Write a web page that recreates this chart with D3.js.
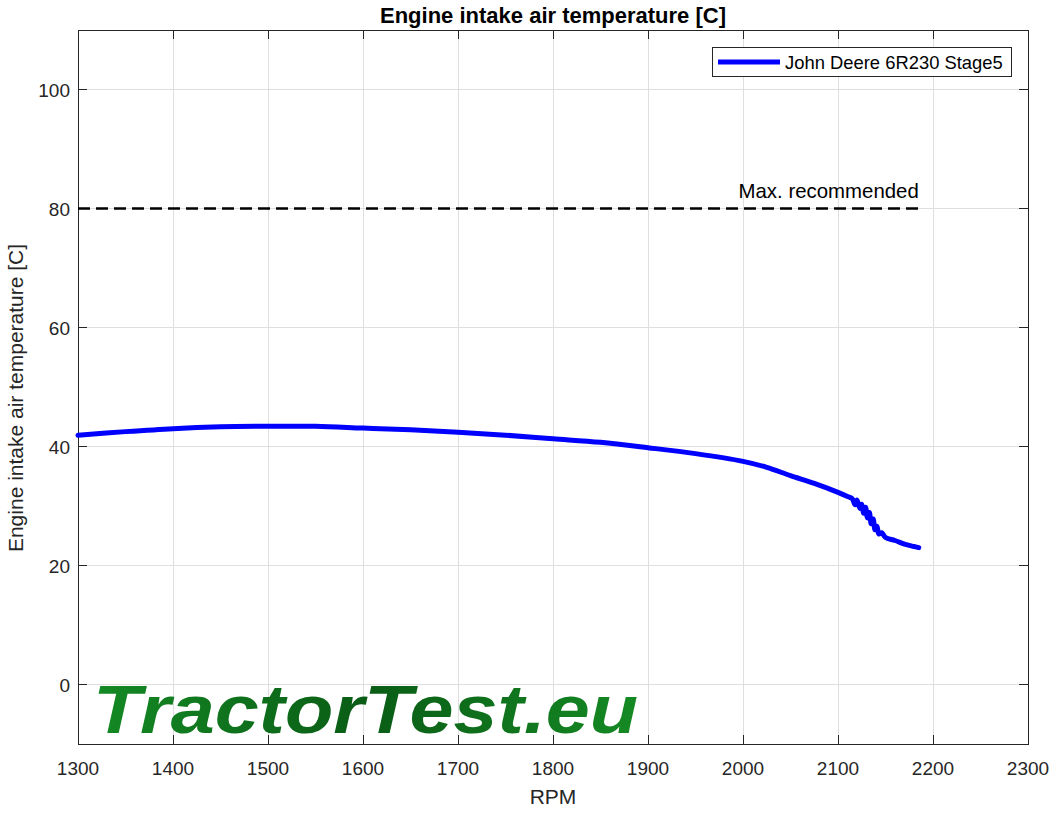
<!DOCTYPE html>
<html><head><meta charset="utf-8">
<script src="https://cdn.jsdelivr.net/npm/d3@7"></script>
<style>body{margin:0;background:#fff}svg{display:block}</style>
</head><body>
<script>
const rpm = [1300,1350,1400,1450,1500,1550,1600,1650,1700,1750,1800,1850,1900,1950,2000,2025,2050,2075,2100,2110,2115,2118,2120,2123,2125,2127,2129,2131,2133,2135,2137,2139,2141,2143,2146,2150,2160,2170,2180,2185];
const temp = [41.9,42.5,43.0,43.3,43.4,43.4,43.1,42.8,42.4,41.9,41.3,40.7,39.8,38.8,37.5,36.5,35.1,33.8,32.3,31.6,31.2,30.2,31.0,29.6,30.3,28.8,29.8,28.0,28.9,27.0,27.8,26.0,26.6,25.3,25.5,24.7,24.2,23.6,23.2,23.0];
const xTicks = [1300,1400,1500,1600,1700,1800,1900,2000,2100,2200,2300];
const yTicks = [0,20,40,60,80,100];
const maxRecommended = 80;
const maxRange = [1300,2185];
const seriesName = "John Deere 6R230 Stage5";
const title = "Engine intake air temperature [C]";
const yLabel = "Engine intake air temperature [C]";
const xLabel = "RPM";

const W=1057,H=814, L=78,R=1028,T=30,B=744;
const svg=d3.select("body").append("svg").attr("width",W).attr("height",H)
  .style("font-family","'Liberation Sans',Arial,sans-serif");
const x=d3.scaleLinear().domain([1300,2300]).range([L,R]);
const y=d3.scaleLinear().domain([-10,110]).range([B,T]);

// grid
svg.append("g").selectAll("line").data(xTicks).join("line")
 .attr("x1",d=>x(d)).attr("x2",d=>x(d)).attr("y1",T).attr("y2",B)
 .attr("stroke","#dfdfdf").attr("stroke-width",1).attr("shape-rendering","crispEdges");
svg.append("g").selectAll("line").data(yTicks).join("line")
 .attr("y1",d=>y(d)).attr("y2",d=>y(d)).attr("x1",L).attr("x2",R)
 .attr("stroke","#dfdfdf").attr("stroke-width",1).attr("shape-rendering","crispEdges");

// watermark
const defs=svg.append("defs");
const g=defs.append("linearGradient").attr("id","wm").attr("x1","0").attr("x2","1").attr("y1","0").attr("y2","0");
g.append("stop").attr("offset","0%").attr("stop-color","#148a24");
g.append("stop").attr("offset","50%").attr("stop-color","#0a5c16");
g.append("stop").attr("offset","100%").attr("stop-color","#158a24");
svg.append("text").attr("x",93).attr("y",733).text("TractorTest.eu")
 .attr("font-size",68).attr("font-weight","bold").attr("font-style","italic")
 .attr("textLength",545).attr("lengthAdjust","spacingAndGlyphs")
 .attr("fill","url(#wm)");

// axes with inward ticks
const tl=9;
const ax=svg.append("g").attr("fill","none").attr("stroke","#262626").attr("stroke-width",1).attr("shape-rendering","crispEdges");
ax.append("rect").attr("x",L).attr("y",T).attr("width",R-L).attr("height",B-T);
xTicks.forEach(d=>{
  ax.append("line").attr("x1",x(d)).attr("x2",x(d)).attr("y1",B).attr("y2",B-tl);
  ax.append("line").attr("x1",x(d)).attr("x2",x(d)).attr("y1",T).attr("y2",T+tl);
});
yTicks.forEach(d=>{
  ax.append("line").attr("y1",y(d)).attr("y2",y(d)).attr("x1",L).attr("x2",L+tl);
  ax.append("line").attr("y1",y(d)).attr("y2",y(d)).attr("x1",R).attr("x2",R-tl);
});

// tick labels
svg.append("g").selectAll("text").data(xTicks).join("text")
 .attr("x",d=>x(d)).attr("y",775).attr("text-anchor","middle").attr("font-size",19).attr("fill","#262626").text(d=>d);
svg.append("g").selectAll("text").data(yTicks).join("text")
 .attr("x",70).attr("y",d=>y(d)+7).attr("text-anchor","end").attr("font-size",19).attr("fill","#262626").text(d=>d);

// labels
svg.append("text").attr("x",(L+R)/2).attr("y",804).attr("text-anchor","middle").attr("font-size",21).attr("fill","#262626").text(xLabel);
svg.append("text").attr("transform",`translate(23,${(T+B)/2+11}) rotate(-90)`).attr("text-anchor","middle").attr("font-size",21).attr("fill","#262626").text(yLabel);
svg.append("text").attr("x",(L+R)/2).attr("y",23).attr("text-anchor","middle").attr("font-size",22).attr("font-weight","bold").attr("fill","#000").text(title);

// max recommended
svg.append("line").attr("x1",x(maxRange[0])).attr("x2",x(maxRange[1])).attr("y1",y(maxRecommended)).attr("y2",y(maxRecommended))
 .attr("stroke","#000").attr("stroke-width",2.5).attr("stroke-dasharray","12,6");
svg.append("text").attr("x",x(maxRange[1])).attr("y",y(maxRecommended)-11).attr("text-anchor","end").attr("font-size",20.4).attr("fill","#000").text("Max. recommended");

// curve
const data=rpm.map((r,i)=>[r,temp[i]]);
svg.append("path").datum(data).attr("d",d3.line().x(d=>x(d[0])).y(d=>y(d[1])).curve(d3.curveCatmullRom.alpha(0.5)))
 .attr("fill","none").attr("stroke","#0000ff").attr("stroke-width",5).attr("stroke-linejoin","round").attr("stroke-linecap","round");

// legend
const lg=svg.append("g");
lg.append("rect").attr("x",712.5).attr("y",47.5).attr("width",299).attr("height",29).attr("fill","#fff").attr("stroke","#262626");
lg.append("line").attr("x1",718).attr("x2",780).attr("y1",62).attr("y2",62).attr("stroke","#0000ff").attr("stroke-width",5);
lg.append("text").attr("x",785).attr("y",69).attr("font-size",18.4).attr("fill","#000").text(seriesName);
</script>
</body></html>
